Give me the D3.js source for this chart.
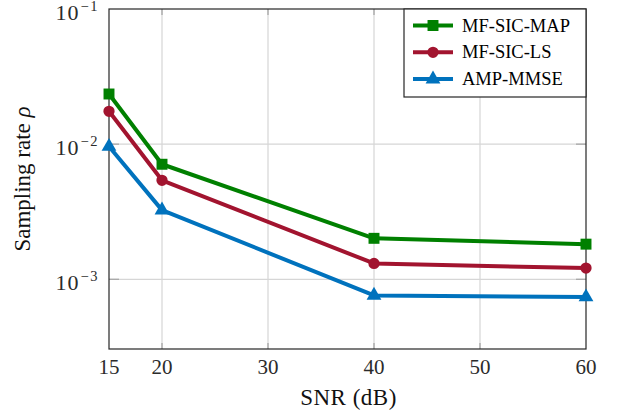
<!DOCTYPE html>
<html lang="en">
<head>
  <meta charset="UTF-8">
  <title>Sampling rate vs SNR</title>
  <script src="https://d3js.org/d3.v7.min.js"></script>
  <style>
    body { margin: 0; background: #fff; }
    svg { display: block; font-family: "Liberation Serif", "DejaVu Serif", serif; }
    .grid line { stroke: #d6d6d6; stroke-width: 1.2px; }
    .tick-label { font-size: 21px; fill: #2b2b2b; }
    .axis-title { font-size: 23px; fill: #111; }
    .legend text { font-size: 18.5px; fill: #000; }
  </style>
</head>
<body>
  <svg width="619" height="416"></svg>
  <script>
    // data
    const snr = [15, 20, 40, 60];
    const seriesNames = ["MF-SIC-MAP", "MF-SIC-LS", "AMP-MMSE"];
    const mapValues = [0.0235, 0.0071, 0.00201, 0.00182];
    const lsValues = [0.0175, 0.0054, 0.00131, 0.00121];
    const ampValues = [0.0096, 0.00325, 0.00076, 0.00074];
    const xTicks = [15, 20, 30, 40, 50, 60];
    const yTicks = [1e-1, 1e-2, 1e-3];
    const yExponents = ["−1", "−2", "−3"];

    const svg = d3.select("svg");
    const margin = { top: 9, right: 33, bottom: 67, left: 109 };
    const W = 619, H = 416;
    const x = d3.scaleLinear().domain([15, 60]).range([margin.left, W - margin.right]);
    const y = d3.scaleLog().domain([3.05e-4, 1e-1]).range([H - margin.bottom, margin.top]);

    const colors = d3.scaleOrdinal()
      .domain(seriesNames)
      .range(["#008000", "#A2142F", "#0072BD"]);
    const symbols = { "MF-SIC-MAP": d3.symbolSquare, "MF-SIC-LS": d3.symbolCircle, "AMP-MMSE": d3.symbolTriangle };
    const symSize = { "MF-SIC-MAP": 120, "MF-SIC-LS": 100, "AMP-MMSE": 95 };

    // grid
    const grid = svg.append("g").attr("class", "grid");
    grid.selectAll(".gx").data(xTicks.slice(1, -1)).enter().append("line")
      .attr("x1", d => x(d)).attr("x2", d => x(d))
      .attr("y1", y.range()[0]).attr("y2", y.range()[1]);
    grid.selectAll(".gy").data(yTicks.slice(1)).enter().append("line")
      .attr("x1", x.range()[0]).attr("x2", x.range()[1])
      .attr("y1", d => y(d)).attr("y2", d => y(d));

    // inner ticks
    const tk = svg.append("g").attr("stroke", "#a8a8a8").attr("stroke-width", 1.3);
    xTicks.slice(1, -1).forEach(t => {
      tk.append("line").attr("x1", x(t)).attr("x2", x(t)).attr("y1", y.range()[0]).attr("y2", y.range()[0] - 6);
      tk.append("line").attr("x1", x(t)).attr("x2", x(t)).attr("y1", y.range()[1]).attr("y2", y.range()[1] + 6);
    });
    yTicks.slice(1).forEach(t => {
      tk.append("line").attr("x1", x.range()[0]).attr("x2", x.range()[0] + 10).attr("y1", y(t)).attr("y2", y(t));
      tk.append("line").attr("x1", x.range()[1]).attr("x2", x.range()[1] - 10).attr("y1", y(t)).attr("y2", y(t));
    });

    // frame
    svg.append("rect")
      .attr("x", x.range()[0]).attr("y", y.range()[1])
      .attr("width", x.range()[1] - x.range()[0])
      .attr("height", y.range()[0] - y.range()[1])
      .attr("fill", "none").attr("stroke", "#262626").attr("stroke-width", 1.2);

    // x tick labels
    svg.selectAll(".xl").data(xTicks).enter().append("text")
      .attr("class", "tick-label")
      .attr("x", d => x(d)).attr("y", 374)
      .attr("text-anchor", "middle")
      .text(d => d);

    // y tick labels
    yTicks.forEach((t, i) => {
      const txt = svg.append("text").attr("class", "tick-label")
        .attr("x", x.range()[0] - 10).attr("y", y(t) + 10.5)
        .attr("text-anchor", "end");
      txt.append("tspan").attr("font-size", 22).attr("letter-spacing", 1).text("10");
      txt.append("tspan").attr("dx", 1).attr("dy", -8.5).attr("font-size", 14.5)
        .attr("letter-spacing", 1.5).text(yExponents[i]);
    });

    // axis titles
    svg.append("text").attr("class", "axis-title")
      .attr("x", (x.range()[0] + x.range()[1]) / 2 + 1).attr("y", 405)
      .attr("text-anchor", "middle").attr("letter-spacing", 0.5).text("SNR (dB)");
    const yl = svg.append("text").attr("class", "axis-title")
      .attr("transform", `translate(30,${(y.range()[0] + y.range()[1]) / 2}) rotate(-90)`)
      .attr("text-anchor", "middle");
    yl.append("tspan").text("Sampling rate ");
    yl.append("tspan").attr("font-style", "italic").text("ρ");

    // lines + markers
    const allValues = [mapValues, lsValues, ampValues];
    const line = d3.line().x(d => x(d.snr)).y(d => y(d.value));
    seriesNames.forEach((name, i) => {
      const pts = snr.map((s, j) => ({ snr: s, value: allValues[i][j] }));
      svg.append("path").datum(pts)
        .attr("fill", "none").attr("stroke", colors(name))
        .attr("stroke-width", 4).attr("stroke-linejoin", "round")
        .attr("d", line);
      svg.selectAll(`.m${i}`).data(pts).enter().append("path")
        .attr("transform", d => `translate(${x(d.snr)},${y(d.value)})`)
        .attr("d", d3.symbol().type(symbols[name]).size(symSize[name]))
        .attr("fill", colors(name));
    });

    // legend
    const lg = svg.append("g").attr("class", "legend");
    lg.append("rect").attr("x", 404).attr("y", 9).attr("width", 182).attr("height", 88)
      .attr("fill", "#fff").attr("stroke", "#262626").attr("stroke-width", 1.2);
    seriesNames.forEach((name, i) => {
      const cy = 25.5 + i * 26.8;
      lg.append("line").attr("x1", 413).attr("x2", 453).attr("y1", cy).attr("y2", cy)
        .attr("stroke", colors(name)).attr("stroke-width", 4);
      lg.append("path").attr("transform", `translate(433,${cy})`)
        .attr("d", d3.symbol().type(symbols[name]).size(symSize[name]))
        .attr("fill", colors(name));
      lg.append("text").attr("x", 462).attr("y", cy + 6).text(name);
    });
  </script>
</body>
</html>
